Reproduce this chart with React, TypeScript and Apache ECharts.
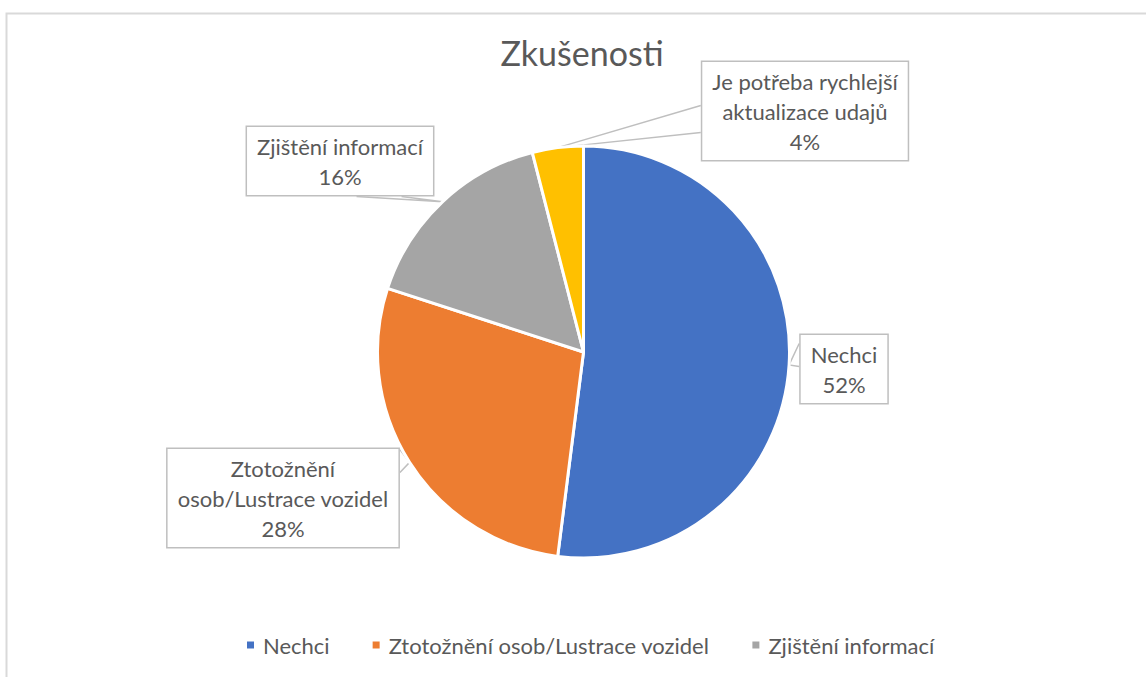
import React, { useEffect, useRef } from 'react';
import * as echarts from 'echarts';

const categories = [
  'Nechci',
  'Ztotožnění osob/Lustrace vozidel',
  'Zjištění informací',
  'Je potřeba rychlejší aktualizace udajů',
];
const labelTexts = [
  'Nechci',
  'Ztotožnění\nosob/Lustrace vozidel',
  'Zjištění informací',
  'Je potřeba rychlejší\naktualizace udajů',
];
const values = [52, 28, 16, 4];
const colors = ['#4472C4', '#ED7D31', '#A5A5A5', '#FFC000'];
const legendItems = categories.slice(0, 3);

// callout box centres and the stretch of the box edge where the pointer starts
const calloutBoxes = [
  { cx: 844, cy: 369, side: 'left', from: 10, to: 33 },
  { cx: 283, cy: 498, side: 'right', from: 2, to: 25 },
  { cx: 340, cy: 161, side: 'bottom', from: 111, to: 156 },
  { cx: 805, cy: 111, side: 'left', from: 45, to: 72 },
];

const FONT = 'Lato, "Noto Sans", sans-serif';
const TEXT = '#595959';

export default function App() {
  const ref = useRef<HTMLDivElement>(null);
  useEffect(() => {
    document.body.style.margin = '0';
    const chart = echarts.init(ref.current!, null, { renderer: 'svg' });
    chart.setOption({
      animation: false,
      backgroundColor: '#ffffff',
      title: {
        text: 'Zkušenosti',
        left: 577,
        textAlign: 'center',
        top: 30,
        textStyle: { fontFamily: FONT, fontSize: 34, fontWeight: 'normal', color: TEXT },
      },
      legend: {
        data: legendItems,
        left: 240,
        top: 629,
        icon: 'rect',
        itemWidth: 9,
        itemHeight: 9,
        itemGap: 41,
        textStyle: { fontFamily: FONT, fontSize: 22, color: TEXT, padding: [0, 0, 0, 3] },
      },
      graphic: [
        {
          type: 'rect',
          shape: { x: 6.5, y: 13.5, width: 1200, height: 700 },
          style: { fill: 'none', stroke: '#d9d9d9', lineWidth: 2 },
          silent: true,
        },
      ],
      series: [
        {
          type: 'pie',
          center: [583.5, 352],
          radius: 206,
          startAngle: 90,
          clockwise: true,
          avoidLabelOverlap: false,
          itemStyle: { borderColor: '#ffffff', borderWidth: 3 },
          data: categories.map((name, i) => ({
            name,
            value: values[i],
            itemStyle: { color: colors[i] },
          })),
          label: {
            show: true,
            position: 'outside',
            formatter: (p: any) => `${labelTexts[p.dataIndex]}\n${Math.round(p.percent)}%`,
            fontFamily: FONT,
            fontSize: 22,
            lineHeight: 30,
            color: TEXT,
            backgroundColor: '#ffffff',
            borderColor: '#bfbfbf',
            borderWidth: 1.5,
            padding: [4, 10, 4, 10],
            align: 'center',
          },
          labelLine: {
            show: true,
            lineStyle: { color: '#bfbfbf', width: 1.5 },
          },
          labelLayout: (p: any) => {
            const b = calloutBoxes[p.dataIndex];
            const w = p.labelRect.width;
            const h = p.labelRect.height;
            const left = b.cx - w / 2;
            const top = b.cy - h / 2;
            const tip = p.labelLinePoints ? p.labelLinePoints[0] : null;
            let a: number[];
            let c: number[];
            if (b.side === 'left') {
              a = [left, top + b.from];
              c = [left, top + b.to];
            } else if (b.side === 'right') {
              a = [left + w, top + b.from];
              c = [left + w, top + b.to];
            } else {
              a = [left + b.from, top + h];
              c = [left + b.to, top + h];
            }
            const out: any = { x: b.cx, y: b.cy, align: 'center', verticalAlign: 'middle' };
            if (tip) out.labelLinePoints = [a, tip, c];
            return out;
          },
        },
      ],
    });
    return () => chart.dispose();
  }, []);
  return <div ref={ref} style={{ width: 1146, height: 677 }} />;
}
